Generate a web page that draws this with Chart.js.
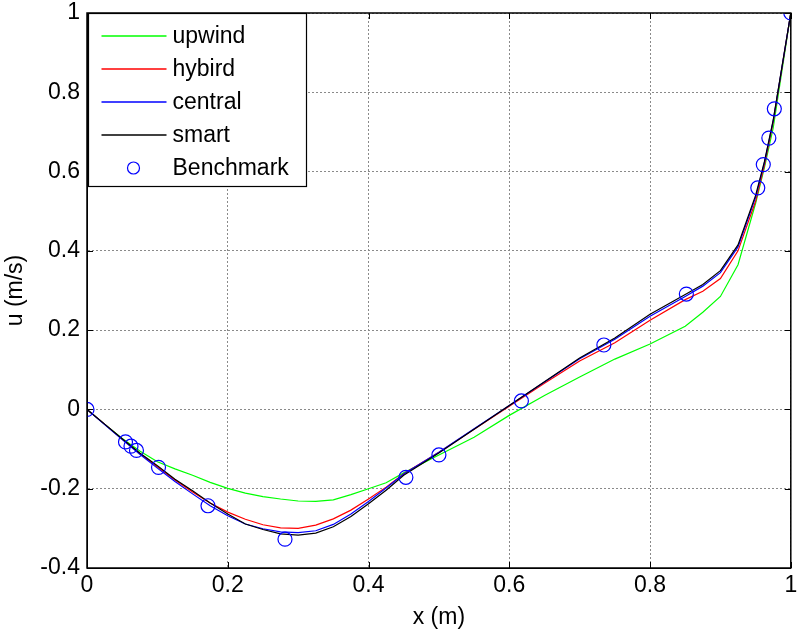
<!DOCTYPE html>
<html lang="en">
<head>
  <meta charset="UTF-8" />
  <title>u velocity profile</title>
  <script src="https://cdn.jsdelivr.net/npm/chart.js"></script>
  <style>
    html, body {
      margin: 0;
      padding: 0;
      background: white;
    }
    #wrap {
      width: 799px;
      height: 635px;
    }
  </style>
</head>
<body>
  <div id="wrap"><canvas id="profileChart" width="799" height="635"></canvas></div>

  <script>
    // x positions (m) of the computed profiles
    const xs = [0, 0.025, 0.05, 0.075, 0.1, 0.125, 0.15, 0.175, 0.2, 0.225, 0.25, 0.275, 0.3,
      0.325, 0.35, 0.375, 0.4, 0.425, 0.45, 0.5, 0.55, 0.6, 0.65, 0.7, 0.75, 0.8, 0.85,
      0.875, 0.9, 0.925, 0.95, 0.9625, 0.975, 1];

    const upwind = [0, -0.037, -0.073, -0.105, -0.132, -0.150, -0.166, -0.184, -0.199, -0.211,
      -0.220, -0.226, -0.231, -0.232, -0.228, -0.215, -0.200, -0.185, -0.160, -0.115, -0.070,
      -0.015, 0.035, 0.082, 0.127, 0.165, 0.210, 0.245, 0.285, 0.365, 0.52, 0.61, 0.71, 1];

    const hybird = [0, -0.037, -0.075, -0.111, -0.145, -0.178, -0.208, -0.236, -0.259, -0.277,
      -0.291, -0.299, -0.300, -0.292, -0.276, -0.254, -0.226, -0.196, -0.162, -0.108, -0.050,
      0.008, 0.066, 0.122, 0.168, 0.225, 0.277, 0.298, 0.330, 0.400, 0.525, 0.615, 0.725, 1];

    const central = [0, -0.038, -0.076, -0.113, -0.148, -0.182, -0.213, -0.243, -0.268, -0.289,
      -0.301, -0.309, -0.311, -0.306, -0.290, -0.264, -0.232, -0.198, -0.163, -0.108, -0.049,
      0.010, 0.069, 0.128, 0.177, 0.235, 0.285, 0.311, 0.345, 0.410, 0.535, 0.622, 0.728, 1];

    const smart = [0, -0.037, -0.074, -0.110, -0.142, -0.176, -0.205, -0.236, -0.264, -0.289,
      -0.303, -0.314, -0.317, -0.312, -0.296, -0.270, -0.238, -0.204, -0.166, -0.110, -0.050,
      0.010, 0.070, 0.130, 0.180, 0.240, 0.290, 0.315, 0.350, 0.415, 0.540, 0.625, 0.730, 1];

    // benchmark markers
    const benchX = [0, 0.0547, 0.0625, 0.0703, 0.1016, 0.1719, 0.2813, 0.4531, 0.5, 0.6172,
      0.7344, 0.8516, 0.9531, 0.9609, 0.9688, 0.9766, 1];
    const benchU = [0, -0.08186, -0.09266, -0.10338, -0.14612, -0.24299, -0.32726, -0.17119,
      -0.11477, 0.02135, 0.16256, 0.29093, 0.55892, 0.61756, 0.68439, 0.75837, 1];

    const xTicks = [0, 0.2, 0.4, 0.6, 0.8, 1];
    const yTicks = [-0.4, -0.2, 0, 0.2, 0.4, 0.6, 0.8, 1];

    const FONT = "'Liberation Sans', Arial, sans-serif";

    const toPoints = (xv, yv) => xv.map((x, i) => ({ x: x, y: yv[i] }));

    const lineSet = (label, values, color, order) => ({
      label: label,
      data: toPoints(xs, values),
      showLine: true,
      borderColor: color,
      backgroundColor: color,
      borderWidth: 1.2,
      pointRadius: 0,
      tension: 0,
      order: order
    });

    // matlab style box, inward ticks and legend inside the axes
    const matlabBox = {
      id: 'matlabBox',
      afterDatasetsDraw(chart) {
        const ctx = chart.ctx;
        const a = chart.chartArea;
        const xs_ = chart.scales.x, ys_ = chart.scales.y;
        ctx.save();
        ctx.strokeStyle = '#000';
        ctx.lineWidth = 1.5;
        ctx.strokeRect(a.left, a.top, a.right - a.left, a.bottom - a.top);

        ctx.lineWidth = 1;
        ctx.beginPath();
        xTicks.forEach(v => {
          const px = Math.round(xs_.getPixelForValue(v)) + 0.5;
          ctx.moveTo(px, a.bottom); ctx.lineTo(px, a.bottom - 6);
          ctx.moveTo(px, a.top); ctx.lineTo(px, a.top + 6);
        });
        yTicks.forEach(v => {
          const py = Math.round(ys_.getPixelForValue(v)) + 0.5;
          ctx.moveTo(a.left, py); ctx.lineTo(a.left + 6, py);
          ctx.moveTo(a.right, py); ctx.lineTo(a.right - 6, py);
        });
        ctx.stroke();

        // legend
        const lx = Math.round(a.left) + 1.5, ly = Math.round(a.top) + 0.5, lw = 218, lh = 173;
        ctx.fillStyle = '#fff';
        ctx.fillRect(lx, ly, lw, lh);
        ctx.strokeStyle = '#000';
        ctx.lineWidth = 1.2;
        ctx.strokeRect(lx, ly, lw, lh);
        ctx.font = '23px ' + FONT;
        ctx.textBaseline = 'middle';
        ctx.textAlign = 'left';
        const sets = chart.data.datasets;
        sets.forEach((ds, i) => {
          const ry = Math.round(ly + 22 + i * 33);
          ctx.strokeStyle = ds.borderColor;
          if (ds.showLine) {
            ctx.lineWidth = 1.6;
            ctx.beginPath();
            ctx.moveTo(lx + 13, ry);
            ctx.lineTo(lx + 78, ry);
            ctx.stroke();
          } else {
            ctx.lineWidth = 1.2;
            ctx.beginPath();
            ctx.arc(lx + 45, ry, 6, 0, Math.PI * 2);
            ctx.stroke();
          }
          ctx.fillStyle = '#000';
          ctx.fillText(ds.label, lx + 84, ry + 1);
        });
        ctx.restore();
      }
    };

    const ctx = document.getElementById('profileChart').getContext('2d');
    const profileChart = new Chart(ctx, {
      type: 'scatter',
      data: {
        datasets: [
          lineSet('upwind', upwind, '#00ff00', 4),
          lineSet('hybird', hybird, '#ff0000', 3),
          lineSet('central', central, '#0000ff', 2),
          lineSet('smart', smart, '#000000', 1),
          {
            label: 'Benchmark',
            data: toPoints(benchX, benchU),
            showLine: false,
            borderColor: '#0000ff',
            backgroundColor: 'rgba(0,0,0,0)',
            borderWidth: 1.2,
            pointRadius: 7,
            pointStyle: 'circle',
            order: 0
          }
        ]
      },
      options: {
        responsive: false,
        animation: false,
        events: [],
        layout: {
          padding: { left: 0, right: 7, top: 13, bottom: 0 }
        },
        plugins: {
          legend: { display: false },
          tooltip: { enabled: false }
        },
        scales: {
          x: {
            type: 'linear',
            min: 0,
            max: 1,
            afterFit: s => {
              s.height = 67;
              s.paddingLeft = 0;
              s.paddingRight = 0;
            },
            afterBuildTicks: s => { s.ticks = xTicks.map(v => ({ value: v })); },
            ticks: {
              color: '#000',
              padding: 6,
              font: { family: FONT, size: 23, lineHeight: 1 },
              callback: v => String(Number(v.toFixed(1)))
            },
            grid: {
              color: '#8a8a8a',
              lineWidth: 1,
              drawTicks: false
            },
            border: { display: true, color: '#000', dash: [2, 2] },
            title: {
              display: true,
              text: 'x (m)',
              color: '#000',
              padding: { top: 0, bottom: 4 },
              font: { family: FONT, size: 23 }
            }
          },
          y: {
            type: 'linear',
            min: -0.4,
            max: 1,
            afterFit: s => {
              s.width = 87;
              s.paddingTop = 0;
              s.paddingBottom = 0;
            },
            afterBuildTicks: s => { s.ticks = yTicks.map(v => ({ value: v })); },
            ticks: {
              color: '#000',
              padding: 7,
              font: { family: FONT, size: 23, lineHeight: 1 },
              callback: v => String(Number(v.toFixed(1)))
            },
            grid: {
              color: '#8a8a8a',
              lineWidth: 1,
              drawTicks: false
            },
            border: { display: true, color: '#000', dash: [2, 2] },
            title: {
              display: true,
              text: 'u (m/s)',
              color: '#000',
              padding: { top: 2, bottom: 0 },
              font: { family: FONT, size: 23 }
            }
          }
        }
      },
      plugins: [matlabBox]
    });
  </script>
</body>
</html>
